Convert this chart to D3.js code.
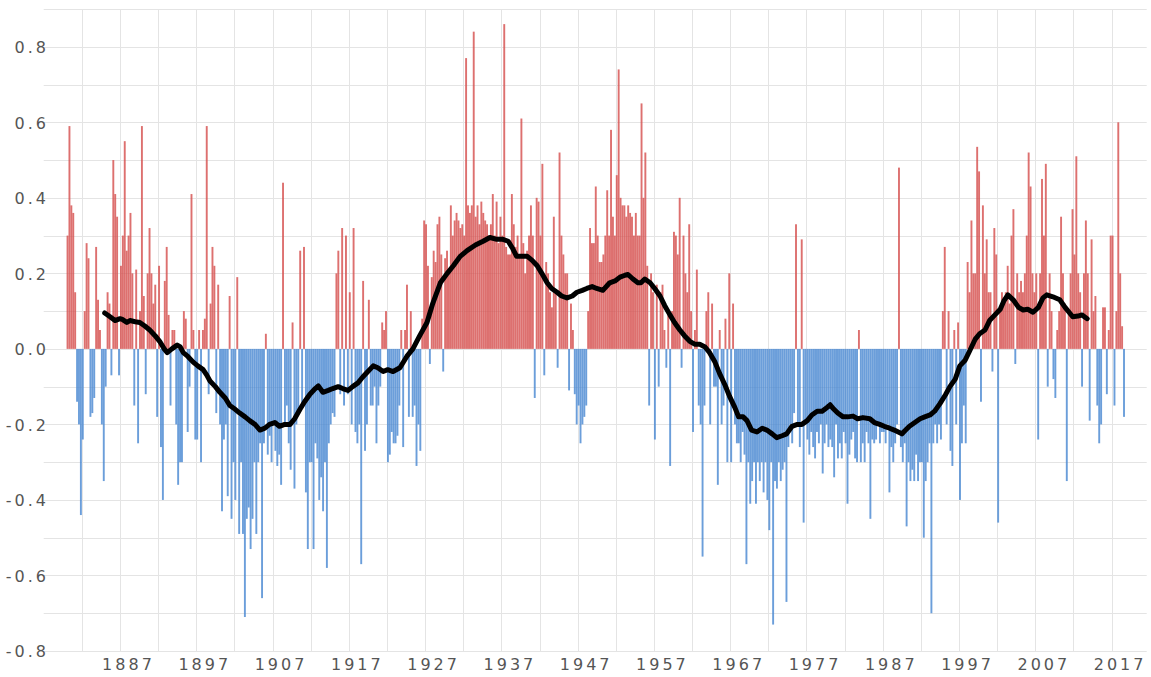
<!DOCTYPE html>
<html>
<head>
<meta charset="utf-8">
<script src="https://cdn.jsdelivr.net/npm/d3@7"></script>
<style>
  body { margin: 0; background: #fff; }
  .lbl text { font-family: "DejaVu Sans", Verdana, sans-serif; font-size: 16px; fill: #555; letter-spacing: 3px; }
</style>
</head>
<body>
<svg id="chart" width="1151" height="677"></svg>
<script>
// quarterly index values, one row per year starting 1880
var firstYear = 1880;
var quarterly = [
  [0.30, 0.59, 0.38, 0.36],   // 1880
  [0.15, -0.14, -0.20, -0.44],
  [-0.24, 0.10, 0.28, 0.24],
  [-0.18, -0.17, -0.13, 0.27],
  [0.13, 0.05, -0.20, -0.35],
  [-0.10, 0.15, 0.12, -0.07],  // 1885
  [0.50, 0.41, 0.35, -0.07],
  [0.22, 0.30, 0.55, 0.26],
  [0.30, 0.36, 0.20, -0.15],
  [0.21, -0.25, 0.10, 0.59],
  [0.14, -0.12, 0.20, 0.32],   // 1890
  [0.20, 0.12, 0.17, -0.18],
  [0.22, -0.26, -0.40, 0.18],
  [0.27, 0.09, -0.15, 0.05],
  [0.05, -0.20, -0.36, -0.30],
  [-0.30, 0.10, 0.08, -0.22],  // 1895
  [-0.10, 0.41, 0.05, -0.24],
  [-0.24, 0.05, -0.30, 0.05],
  [0.08, 0.59, -0.12, 0.12],
  [0.27, 0.22, -0.17, 0.17],
  [-0.20, -0.43, -0.24, -0.20], // 1900
  [-0.39, 0.14, -0.45, -0.30],
  [-0.40, 0.19, -0.49, -0.30],
  [-0.49, -0.71, -0.45, -0.42],
  [-0.53, -0.45, -0.30, -0.49],
  [-0.30, -0.25, -0.66, -0.25], // 1905
  [0.04, -0.28, -0.23, -0.30],
  [-0.20, -0.27, -0.31, -0.28],
  [-0.36, 0.44, -0.20, -0.15],
  [-0.25, -0.32, 0.07, -0.37],
  [-0.20, -0.17, 0.26, -0.15],  // 1910
  [0.27, -0.38, -0.53, -0.30],
  [-0.30, -0.53, -0.25, -0.29],
  [-0.40, -0.34, -0.43, -0.30],
  [-0.58, -0.25, -0.20, -0.17],
  [-0.18, 0.20, 0.26, -0.12],   // 1915
  [0.32, -0.15, 0.30, -0.12],
  [0.15, -0.20, 0.32, -0.22],
  [-0.25, -0.20, -0.57, 0.18],
  [-0.27, -0.20, 0.13, -0.15],
  [-0.15, -0.10, -0.25, -0.15], // 1920
  [-0.10, 0.07, 0.05, 0.10],
  [-0.30, -0.28, -0.22, -0.25],
  [-0.25, -0.23, -0.15, 0.05],
  [-0.26, 0.05, 0.17, -0.18],
  [0.10, -0.18, -0.15, -0.31],  // 1925
  [-0.20, -0.27, 0.08, 0.34],
  [0.33, 0.22, -0.04, 0.19],
  [0.26, 0.23, 0.33, 0.35],
  [0.25, -0.06, 0.24, 0.26],
  [0.20, 0.38, 0.30, 0.34],     // 1930
  [0.36, 0.34, 0.32, 0.33],
  [0.30, 0.77, 0.38, 0.36],
  [0.38, 0.84, 0.35, 0.38],
  [0.33, 0.39, 0.36, 0.34],
  [0.33, 0.30, 0.33, 0.41],     // 1935
  [0.30, 0.39, 0.28, 0.35],
  [0.30, 0.86, 0.27, 0.25],
  [0.25, 0.41, 0.33, 0.27],
  [0.30, 0.25, 0.61, 0.28],
  [0.20, 0.26, 0.30, 0.38],     // 1940
  [0.30, -0.13, 0.40, 0.39],
  [0.30, 0.49, -0.07, 0.23],
  [0.20, 0.15, 0.11, 0.35],
  [0.15, -0.05, 0.52, 0.30],
  [0.25, 0.20, 0.20, -0.11],    // 1945
  [0.12, 0.05, -0.12, -0.20],
  [-0.15, -0.25, -0.20, -0.18],
  [-0.15, 0.10, 0.32, 0.28],
  [0.28, 0.43, 0.30, 0.23],
  [0.23, 0.25, 0.30, 0.42],     // 1950
  [0.30, 0.58, 0.35, 0.30],
  [0.46, 0.74, 0.40, 0.38],
  [0.38, 0.35, 0.38, 0.36],
  [0.35, 0.30, 0.36, 0.30],
  [0.30, 0.65, 0.40, 0.52],     // 1955
  [0.22, -0.15, 0.20, 0.15],
  [-0.24, 0.17, -0.10, 0.15],
  [0.17, 0.05, -0.05, 0.10],
  [-0.31, 0.10, 0.31, 0.30],
  [0.25, 0.40, -0.05, 0.30],    // 1960
  [0.20, 0.15, 0.33, 0.10],
  [-0.22, 0.05, 0.21, -0.15],
  [-0.20, -0.55, -0.15, 0.10],
  [0.15, -0.20, 0.12, -0.10],
  [-0.10, -0.36, 0.05, -0.20],  // 1965
  [-0.15, 0.08, -0.30, 0.20],
  [-0.30, 0.12, -0.20, -0.25],
  [-0.25, -0.30, -0.22, -0.28],
  [-0.57, -0.30, -0.41, -0.35],
  [-0.30, -0.41, -0.30, -0.35], // 1970
  [-0.30, -0.38, -0.30, -0.40],
  [-0.48, -0.30, -0.73, -0.35],
  [-0.37, -0.30, -0.35, -0.32],
  [-0.30, -0.67, -0.26, -0.20],
  [-0.25, -0.17, 0.33, -0.20],  // 1975
  [-0.26, 0.29, -0.46, -0.20],
  [-0.24, -0.28, -0.22, -0.26],
  [-0.29, -0.22, -0.25, -0.20],
  [-0.33, -0.25, -0.20, -0.26],
  [-0.24, -0.26, -0.34, -0.20], // 1980
  [-0.29, -0.25, -0.29, -0.22],
  [-0.25, -0.41, -0.28, -0.24],
  [-0.22, -0.29, -0.30, 0.05],
  [-0.30, -0.25, -0.30, -0.22],
  [-0.25, -0.45, -0.24, -0.25], // 1985
  [-0.24, -0.20, -0.25, -0.22],
  [-0.22, -0.25, -0.20, -0.38],
  [-0.26, -0.30, -0.25, -0.20],
  [0.48, -0.26, -0.30, -0.25],
  [-0.47, -0.30, -0.35, -0.32], // 1990
  [-0.35, -0.28, -0.35, -0.30],
  [-0.30, -0.50, -0.35, -0.30],
  [-0.25, -0.70, -0.25, -0.20],
  [-0.25, -0.20, -0.24, 0.10],
  [0.27, -0.20, 0.10, -0.27],   // 1995
  [-0.31, 0.05, -0.20, 0.07],
  [-0.40, -0.25, -0.15, -0.25],
  [0.23, 0.15, 0.34, 0.20],
  [0.20, 0.535, 0.47, -0.14],
  [0.38, 0.20, 0.29, 0.15],     // 2000
  [0.15, -0.06, 0.32, 0.25],
  [-0.46, 0.10, 0.15, 0.12],
  [0.15, 0.22, 0.12, 0.30],
  [0.37, -0.04, 0.20, 0.15],
  [0.18, 0.15, 0.20, 0.30],     // 2005
  [0.52, 0.43, 0.20, 0.15],
  [0.20, -0.24, 0.20, 0.45],
  [0.30, 0.49, -0.10, 0.20],
  [0.10, -0.08, -0.13, 0.05],
  [0.10, 0.35, 0.20, 0.12],     // 2010
  [-0.35, 0.10, 0.20, 0.37],
  [0.25, 0.51, 0.20, 0.15],
  [-0.10, 0.20, 0.34, 0.20],
  [-0.19, 0.29, 0.10, 0.14],
  [-0.15, -0.25, -0.20, 0.11],  // 2015
  [0.11, -0.12, 0.05, 0.30],
  [0.30, -0.15, 0.10, 0.60],
  [0.20, 0.06, -0.18]           // 2018
];

// smoothed curve (running mean) read at points along the black line
var smoothYears = [1885.0, 1885.7, 1886.35, 1887.0, 1887.3, 1887.9, 1888.3, 1889.0, 1889.6, 1890.3,
  1890.9, 1891.6, 1892.2, 1892.8, 1893.2, 1893.8, 1894.5, 1894.9, 1895.3, 1895.9,
  1896.6, 1897.2, 1897.9, 1898.4, 1898.8, 1899.5, 1900.1, 1900.8, 1901.4, 1902.1,
  1902.7, 1903.4, 1904.0, 1904.7, 1905.35, 1906.0, 1906.6, 1907.3, 1907.9, 1908.6,
  1909.3, 1909.9, 1910.6, 1911.2, 1911.9, 1912.6, 1913.0, 1913.6, 1914.3, 1914.9,
  1915.6, 1916.2, 1916.9, 1917.5, 1918.2, 1918.8, 1919.5, 1920.2, 1920.8, 1921.5,
  1922.1, 1922.8, 1923.7, 1924.6, 1925.4, 1926.3, 1927.25, 1928.0, 1929.0, 1929.9,
  1930.7, 1931.6, 1932.5, 1933.6, 1934.6, 1935.5, 1936.4, 1937.2, 1937.9, 1938.5,
  1939.0, 1939.7, 1940.4, 1941.0, 1941.7, 1942.3, 1943.0, 1943.6, 1944.3, 1944.9,
  1945.6, 1946.3, 1946.9, 1947.6, 1948.2, 1948.9, 1949.5, 1950.3, 1951.2, 1951.9,
  1952.55, 1953.2, 1953.6, 1954.25, 1954.9, 1955.3, 1955.8, 1956.5, 1957.1, 1957.8,
  1958.4, 1959.1, 1959.7, 1960.4, 1961.0, 1961.7, 1962.4, 1963.0, 1963.7, 1964.3,
  1965.0, 1965.6, 1966.3, 1966.9, 1967.6, 1968.1, 1968.7, 1969.2, 1969.8, 1970.5,
  1971.2, 1971.8, 1972.5, 1973.1, 1973.8, 1974.4, 1975.1, 1975.8, 1976.4, 1977.1,
  1977.7, 1978.4, 1979.05, 1979.7, 1980.1, 1980.6, 1981.1, 1981.8, 1982.4, 1983.1,
  1983.7, 1984.4, 1985.3, 1985.9, 1986.6, 1987.2, 1987.9, 1988.5, 1989.5, 1990.0,
  1990.5, 1991.2, 1991.9, 1992.5, 1993.2, 1993.8, 1994.5, 1995.2, 1995.8, 1996.5,
  1997.1, 1997.8, 1998.4, 1999.1, 1999.7, 2000.4, 2001.0, 2001.7, 2002.4, 2002.9,
  2003.4, 2004.1, 2004.8, 2005.4, 2006.0, 2006.7, 2007.4, 2008.0, 2008.5, 2009.3,
  2010.2, 2010.9, 2011.5, 2011.9, 2012.6, 2013.1, 2013.8];
var smoothValues = [0.095, 0.085, 0.075, 0.08, 0.078, 0.07, 0.075, 0.072, 0.07, 0.06,
  0.05, 0.035, 0.02, 0.0, -0.01, 0.0, 0.01, 0.005, -0.01, -0.02,
  -0.035, -0.045, -0.055, -0.07, -0.085, -0.1, -0.115, -0.13, -0.15, -0.16,
  -0.17, -0.18, -0.19, -0.2, -0.215, -0.21, -0.2, -0.195, -0.205, -0.2,
  -0.2, -0.185, -0.16, -0.14, -0.12, -0.105, -0.098, -0.115, -0.11, -0.105,
  -0.1, -0.105, -0.11, -0.1, -0.09, -0.075, -0.06, -0.045, -0.05, -0.06,
  -0.055, -0.06, -0.05, -0.02, 0.0, 0.035, 0.07, 0.12, 0.175, 0.2,
  0.22, 0.245, 0.26, 0.275, 0.285, 0.295, 0.29, 0.29, 0.285, 0.265,
  0.245, 0.245, 0.245, 0.235, 0.22, 0.2, 0.175, 0.16, 0.15, 0.14,
  0.135, 0.14, 0.15, 0.155, 0.16, 0.165, 0.16, 0.155, 0.175, 0.18,
  0.19, 0.195, 0.197, 0.185, 0.175, 0.175, 0.185, 0.175, 0.16, 0.14,
  0.115, 0.09, 0.07, 0.05, 0.035, 0.02, 0.012, 0.012, 0.005, -0.01,
  -0.035, -0.065, -0.095, -0.125, -0.155, -0.18, -0.18, -0.19, -0.215, -0.22,
  -0.21, -0.215, -0.225, -0.235, -0.23, -0.225, -0.205, -0.2, -0.2, -0.19,
  -0.175, -0.165, -0.165, -0.155, -0.148, -0.16, -0.17, -0.18, -0.18, -0.178,
  -0.185, -0.182, -0.185, -0.195, -0.2, -0.205, -0.21, -0.215, -0.225, -0.215,
  -0.205, -0.195, -0.185, -0.18, -0.175, -0.165, -0.145, -0.122, -0.1, -0.08,
  -0.045, -0.03, -0.005, 0.025, 0.04, 0.05, 0.075, 0.09, 0.105, 0.128,
  0.143, 0.13, 0.11, 0.103, 0.105, 0.097, 0.11, 0.135, 0.143, 0.138,
  0.13, 0.11, 0.095, 0.085, 0.087, 0.09, 0.08];

var xTickYears = [1887, 1897, 1907, 1917, 1927, 1937, 1947, 1957, 1967, 1977, 1987, 1997, 2007, 2017];
var yTickValues = [-0.8, -0.6, -0.4, -0.2, 0.0, 0.2, 0.4, 0.6, 0.8];

var svg = d3.select("#chart");

var x = d3.scaleLinear().domain([1877, 2021.6]).range([43.7, 1146.7]);
var y = d3.scaleLinear().domain([-0.8, 0.9]).range([651, 9]);

// grid: every 5 years and every 0.1
var gridYears = d3.range(1882, 2018, 5);
var gridVals = d3.range(-8, 10).map(function(d) { return d / 10; });

svg.append("g").selectAll("line")
  .data(gridYears)
  .enter().append("line")
  .attr("x1", function(d) { return Math.round(x(d)) + 0.5; })
  .attr("x2", function(d) { return Math.round(x(d)) + 0.5; })
  .attr("y1", y(0.9))
  .attr("y2", y(-0.8))
  .attr("stroke", "#e4e4e4")
  .attr("stroke-width", 1);

svg.append("g").selectAll("line")
  .data(gridVals)
  .enter().append("line")
  .attr("x1", x.range()[0])
  .attr("x2", x.range()[1])
  .attr("y1", function(d) { return Math.round(y(d)) + 0.5; })
  .attr("y2", function(d) { return Math.round(y(d)) + 0.5; })
  .attr("stroke", "#e4e4e4")
  .attr("stroke-width", 1);

// flatten quarters
var bars = [];
quarterly.forEach(function(row, i) {
  row.forEach(function(v, q) {
    bars.push({t: firstYear + i + q * 0.25, v: v});
  });
});

svg.append("g").selectAll("rect")
  .data(bars)
  .enter().append("rect")
  .attr("x", function(d) { return x(d.t); })
  .attr("width", function(d) { return x(d.t + 0.25) - x(d.t); })
  .attr("y", function(d) { return y(Math.max(d.v, 0)); })
  .attr("height", function(d) { return Math.abs(y(d.v) - y(0)); })
  .attr("fill", function(d) { return d.v >= 0 ? "#d6504f" : "#4a89d2"; })
  .attr("fill-opacity", 0.82);

// smoothed line
var pts = smoothYears.map(function(d, i) { return [d, smoothValues[i]]; });
svg.append("path")
  .datum(pts)
  .attr("fill", "none")
  .attr("stroke", "#000")
  .attr("stroke-width", 5)
  .attr("stroke-linejoin", "round")
  .attr("stroke-linecap", "round")
  .attr("d", d3.line()
    .x(function(d) { return x(d[0]); })
    .y(function(d) { return y(d[1]); }));

// axes (labels only)
var xAxis = d3.axisBottom(x)
  .tickValues(xTickYears)
  .tickFormat(function(d) { return String(d); })
  .tickSize(0)
  .tickPadding(0);
var gx = svg.append("g").attr("class", "lbl")
  .attr("transform", "translate(0,659)")
  .call(xAxis);
gx.select(".domain").remove();
gx.selectAll("text").attr("dx", "8px").attr("dy", "0.71em");

var yAxis = d3.axisLeft(y)
  .tickValues(yTickValues)
  .tickFormat(function(d) { return d.toFixed(1); })
  .tickSize(0)
  .tickPadding(0);
var gy = svg.append("g").attr("class", "lbl")
  .attr("transform", "translate(49,0)")
  .call(yAxis);
gy.select(".domain").remove();
gy.selectAll("text").attr("dy", "0.36em");
</script>
</body>
</html>
